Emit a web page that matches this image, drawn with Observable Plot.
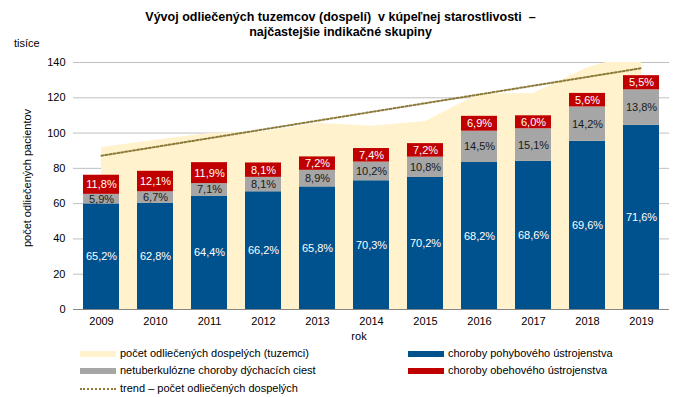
<!DOCTYPE html>
<html><head><meta charset="utf-8">
<script src="https://cdn.jsdelivr.net/npm/d3@7"></script>
<script src="https://cdn.jsdelivr.net/npm/@observablehq/plot@0.6"></script>
<style>
body{margin:0;background:#fff;font-family:"Liberation Sans",Arial,sans-serif;color:#000;}
#wrap{position:relative;width:681px;height:397px;overflow:hidden;}
#chart{position:absolute;left:0;top:0;}
.t{position:absolute;white-space:pre;line-height:1;}
#title{left:0;width:681px;top:10px;text-align:center;font-weight:bold;font-size:12.5px;line-height:15px;}
.leg{position:absolute;font-size:11px;white-space:pre;line-height:1;}
.sw{position:absolute;width:36px;height:6px;}
</style></head><body>
<div id="wrap">
<div id="chart"></div>
<div id="title" class="t">Vývoj odliečených tuzemcov (dospelí)  v kúpeľnej starostlivosti  –
najčastejšie indikačné skupiny</div>
<div class="t" style="left:14px;top:38px;font-size:11px;">tisíce</div>
<div class="t" style="left:27px;top:178px;font-size:11px;transform:translate(-50%,-50%) rotate(-90deg);">počet odliečených pacientov</div>
<div class="t" style="left:359px;top:336px;font-size:11px;transform:translate(-50%,-50%);">rok</div>
<div id="legend"></div>
</div>
<script>
const years = [2009, 2010, 2011, 2012, 2013, 2014, 2015, 2016, 2017, 2018, 2019];
const totals = [91.8, 96.0, 99.8, 100.8, 105.6, 103.8, 106.6, 122.2, 122.4, 137.0, 145.8];
const pctMusculo = [65.2, 62.8, 64.4, 66.2, 65.8, 70.3, 70.2, 68.2, 68.6, 69.6, 71.6];
const pctResp = [5.9, 6.7, 7.1, 8.1, 8.9, 10.2, 10.8, 14.5, 15.1, 14.2, 13.8];
const pctCirc = [11.8, 12.1, 11.9, 8.1, 7.2, 7.4, 7.2, 6.9, 6.0, 5.6, 5.5];
const seriesNames = ["choroby pohybového ústrojenstva", "netuberkulózne choroby dýchacích ciest", "choroby obehového ústrojenstva"];
const seriesColors = ["#00528F", "#A6A6A6", "#C00000"];
const labelColors = ["#FFFFFF", "#1A1A1A", "#FFFFFF"];
const areaName = "počet odliečených dospelých (tuzemci)";
const trendName = "trend – počet odliečených dospelých";
const areaColor = "#FFF2CC";
const trendColor = "#8C7A3A";
const yTicks = [0, 20, 40, 60, 80, 100, 120, 140];

const totalRows = years.map((y, i) => ({year: y, total: totals[i]}));
const pcts = [pctMusculo, pctResp, pctCirc];
const rows = [];
years.forEach((y, i) => {
  pcts.forEach((p, s) => {
    rows.push({year: y, s, series: seriesNames[s], pct: p[i], value: totals[i] * p[i] / 100,
      color: seriesColors[s], lcolor: labelColors[s]});
  });
});
const fmt = v => v.toFixed(1).replace(".", ",") + "%";

const plot = Plot.plot({
  width: 681, height: 345,
  marginLeft: 73, marginRight: 12, marginTop: 62, marginBottom: 36,
  style: {fontFamily: "Liberation Sans, Arial, sans-serif", fontSize: "11px", color: "#000", background: "transparent"},
  x: {type: "band", domain: years, paddingInner: 0.333, paddingOuter: 0.1665, label: null},
  y: {domain: [0, 140], label: null},
  marks: [
    Plot.gridY(yTicks, {stroke: "#BFBFBF", strokeOpacity: 1}),
    Plot.areaY(totalRows, {x: "year", y: "total", fill: areaColor, curve: "linear", clip: true}),
    Plot.linearRegressionY(totalRows, {x: "year", y: "total", stroke: trendColor, strokeWidth: 2, strokeDasharray: "2,2", ci: 0}),
    Plot.barY(rows, {x: "year", y: "value", z: "s", fill: "color", order: null}),
    Plot.text(rows, Plot.stackY({x: "year", y: "value", z: "s", order: null, text: d => fmt(d.pct), fill: "lcolor", fontSize: 11})),
    Plot.ruleY([0], {stroke: "#868686"}),
    Plot.axisY({ticks: yTicks, tickSize: 0, tickPadding: 8, label: null, fontSize: 11}),
    Plot.axisX({tickSize: 0, tickPadding: 8, label: null, fontSize: 11, tickFormat: d => String(d)})
  ]
});
document.getElementById("chart").appendChild(plot);

// legend
const legend = document.getElementById("legend");
const items = [
  {name: areaName, color: areaColor, x: 80, y: 354, type: "box"},
  {name: seriesNames[0], color: seriesColors[0], x: 408, y: 354, type: "box"},
  {name: seriesNames[1], color: seriesColors[1], x: 80, y: 371, type: "box"},
  {name: seriesNames[2], color: seriesColors[2], x: 408, y: 371, type: "box"},
  {name: trendName, color: trendColor, x: 80, y: 389, type: "dot"}
];
items.forEach(it => {
  const sw = document.createElement("div");
  sw.className = "sw";
  sw.style.left = it.x + "px";
  if (it.type === "box") {
    sw.style.top = (it.y - 3) + "px";
    sw.style.background = it.color;
  } else {
    sw.style.top = (it.y - 1) + "px";
    sw.style.height = "0px";
    sw.style.borderTop = "2px dotted " + it.color;
  }
  legend.appendChild(sw);
  const tx = document.createElement("div");
  tx.className = "leg";
  tx.style.left = (it.x + 40) + "px";
  tx.style.top = (it.y - 6) + "px";
  tx.textContent = it.name;
  legend.appendChild(tx);
});
</script>
</body></html>
